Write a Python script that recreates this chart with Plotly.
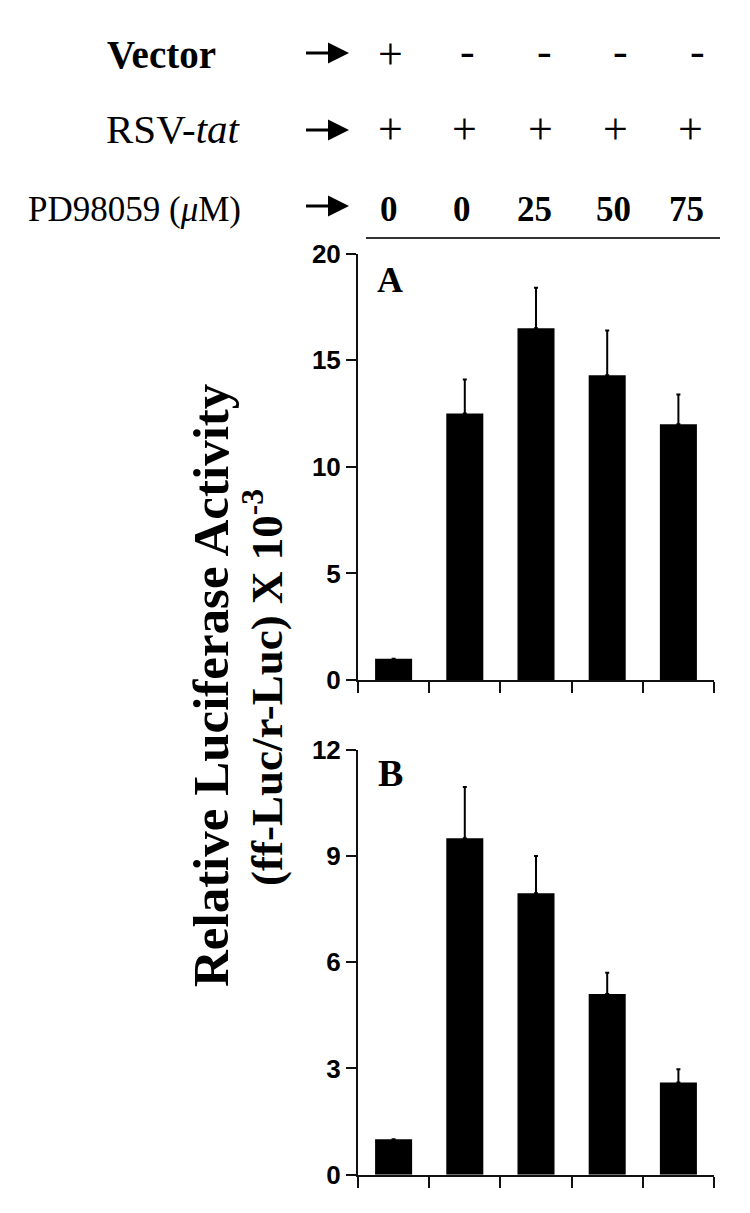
import plotly.graph_objects as go

# ---------------- data ----------------
categories = ["Vector", "Tat + PD 0", "Tat + PD 25", "Tat + PD 50", "Tat + PD 75"]
vector_row = ["+", "-", "-", "-", "-"]
tat_row = ["+", "+", "+", "+", "+"]
pd_doses = ["0", "0", "25", "50", "75"]

panel_a_values = [1.0, 12.5, 16.5, 14.3, 12.0]
panel_a_errors = [0.0, 1.6, 1.9, 2.1, 1.4]
panel_b_values = [1.0, 9.5, 7.95, 5.1, 2.6]
panel_b_errors = [0.0, 1.45, 1.05, 0.6, 0.38]

a_ticks = [0, 5, 10, 15, 20]
b_ticks = [0, 3, 6, 9, 12]

# ---------------- layout helpers ----------------
W, H = 750, 1213


def fx(px):
    return px / W


def fy(px):
    return 1 - px / H


SERIF = "Liberation Serif, Times New Roman, serif"
SANS = "Liberation Sans, Arial, sans-serif"

fig = go.Figure()

for vals, errs, xa, ya in [
    (panel_a_values, panel_a_errors, "x", "y"),
    (panel_b_values, panel_b_errors, "x2", "y2"),
]:
    fig.add_trace(
        go.Bar(
            x=categories,
            y=vals,
            xaxis=xa,
            yaxis=ya,
            width=0.52,
            marker=dict(color="black", line=dict(width=0)),
            error_y=dict(
                type="data",
                symmetric=False,
                array=errs,
                arrayminus=[0] * len(errs),
                color="black",
                thickness=2,
                width=2,
            ),
            showlegend=False,
        )
    )

x_dom = [fx(350), fx(706)]
common_x = dict(
    type="category",
    categoryorder="array",
    categoryarray=categories,
    range=[-0.5, 4.5],
    showticklabels=False,
    ticks="outside",
    tickson="boundaries",
    ticklen=11,
    tickwidth=2,
    tickcolor="#111",
    showline=True,
    linewidth=2,
    linecolor="#111",
    showgrid=False,
    zeroline=False,
    automargin=False,
)
common_y = dict(
    ticks="outside",
    ticklen=10,
    tickwidth=2,
    tickcolor="#111",
    showline=True,
    linewidth=2,
    linecolor="#111",
    showgrid=False,
    zeroline=False,
    tickfont=dict(family=SANS, size=26, color="black", weight="bold"),
    automargin=False,
)

fig.update_layout(
    width=W,
    height=H,
    margin=dict(l=0, r=0, t=0, b=0),
    paper_bgcolor="white",
    plot_bgcolor="white",
    bargap=0.48,
    xaxis=dict(domain=x_dom, anchor="y", **common_x),
    yaxis=dict(domain=[fy(672), fy(245.7)], anchor="x", range=[0, 20],
               tickmode="array", tickvals=a_ticks, **common_y),
    xaxis2=dict(domain=x_dom, anchor="y2", **common_x),
    yaxis2=dict(domain=[fy(1166.7), fy(741.7)], anchor="x2", range=[0, 12],
                tickmode="array", tickvals=b_ticks, **common_y),
)

ann = []

# row labels
ann.append(dict(text="<b>Vector</b>", x=fx(97), y=fy(47), xanchor="left", yanchor="middle",
                font=dict(family=SERIF, size=39, color="black")))
ann.append(dict(text="RSV-<i>tat</i>", x=fx(96), y=fy(121), xanchor="left", yanchor="middle",
                font=dict(family=SERIF, size=41, color="black")))
ann.append(dict(text="PD98059 (<i>μ</i>M)", x=fx(18), y=fy(202), xanchor="left", yanchor="middle",
                font=dict(family=SERIF, size=35, color="black")))

# arrows
for yrow in [45, 122, 198]:
    ann.append(dict(text=" ", x=fx(341), y=fy(yrow), showarrow=True, ax=-45, ay=0,
                    arrowhead=2, arrowsize=1.4, arrowwidth=3, arrowcolor="black",
                    font=dict(size=2), xref="paper", yref="paper"))

plus_cols = [382, 457, 532, 607, 682]
minus_cols = [382, 459, 536, 612, 689]
dose_cols = [381, 454, 526, 605, 678]

for sym, xc in zip(vector_row, minus_cols):
    ann.append(dict(text=sym, x=fx(xc), y=fy(47 if sym == "+" else 44), xanchor="center", yanchor="middle",
                    font=dict(family=SERIF, size=44, color="black")))
for sym, xc in zip(tat_row, plus_cols):
    ann.append(dict(text=sym, x=fx(xc), y=fy(121), xanchor="center", yanchor="middle",
                    font=dict(family=SERIF, size=44, color="black")))
for d, xc in zip(pd_doses, dose_cols):
    ann.append(dict(text=f"<b>{d}</b>", x=fx(xc), y=fy(202), xanchor="center", yanchor="middle",
                    font=dict(family=SERIF, size=35, color="black")))

# panel letters
ann.append(dict(text="<b>A</b>", x=fx(382), y=fy(272), xanchor="center", yanchor="middle",
                font=dict(family=SERIF, size=36, color="black")))
ann.append(dict(text="<b>B</b>", x=fx(382), y=fy(765), xanchor="center", yanchor="middle",
                font=dict(family=SERIF, size=38, color="black")))

# y-axis title (two lines)
ann.append(dict(text="<b>Relative Luciferase Activity</b>", x=fx(203), y=fy(678), textangle=-90,
                xanchor="center", yanchor="middle",
                font=dict(family=SERIF, size=51, color="black")))
ann.append(dict(text="<b>(ff-Luc/r-Luc) X 10<sup>-3</sup></b>", x=fx(255), y=fy(680), textangle=-90,
                xanchor="center", yanchor="middle",
                font=dict(family=SERIF, size=45, color="black")))

for a in ann:
    a.setdefault("xref", "paper")
    a.setdefault("yref", "paper")
    a.setdefault("showarrow", False)
fig.update_layout(annotations=ann)

fig.add_shape(type="line", xref="paper", yref="paper", x0=fx(358), x1=fx(712), y0=fy(230), y1=fy(230),
              line=dict(color="#333", width=2))

fig.write_html("out.html")
